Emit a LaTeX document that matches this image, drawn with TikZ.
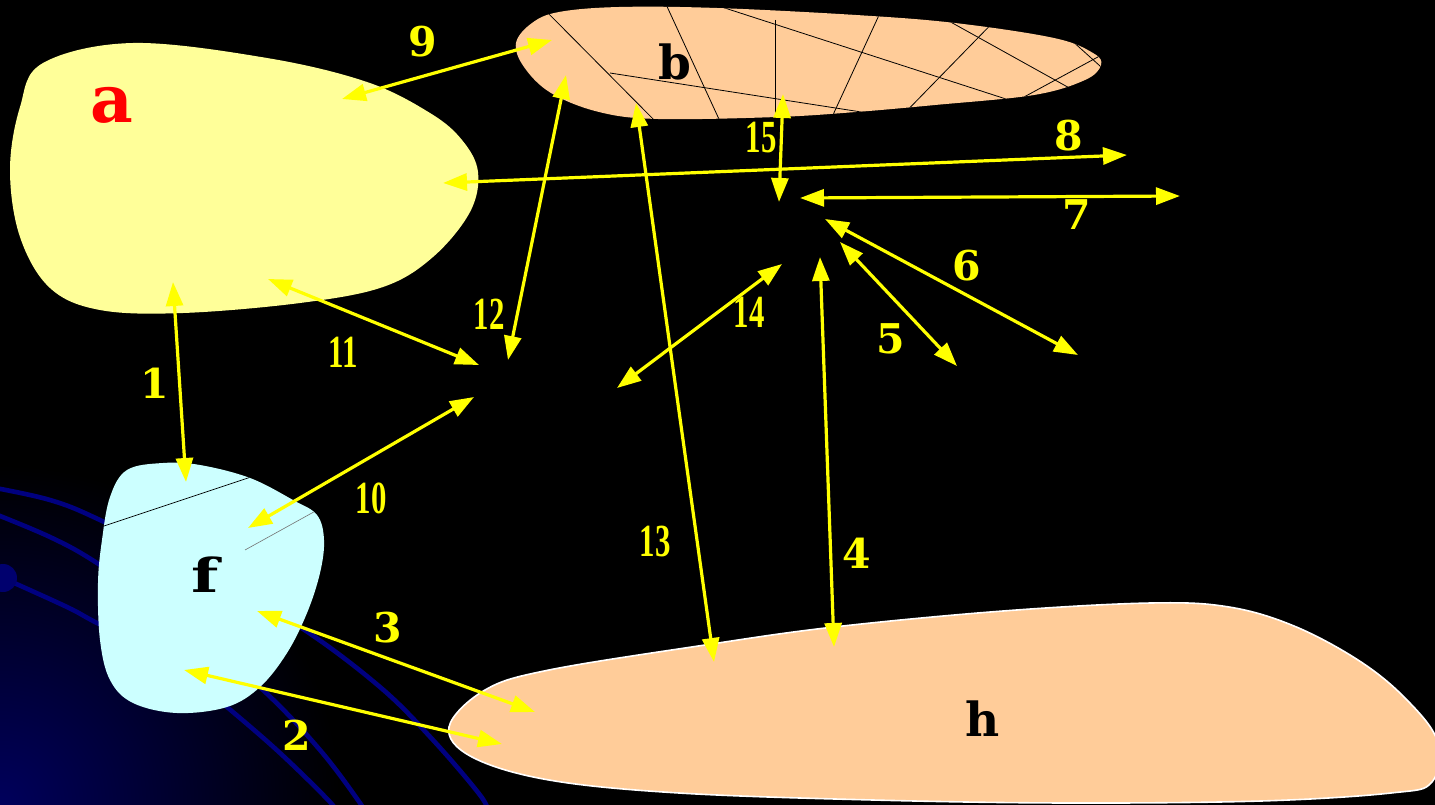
\documentclass[tikz,border=0pt]{standalone}
\usepackage{fontspec}
\usepackage{graphicx}
\usetikzlibrary{arrows.meta}
\newfontfamily\dvs{DejaVu Serif}
\newfontfamily\libs{Liberation Serif}
\definecolor{yel}{RGB}{255,255,0}
\definecolor{peach}{RGB}{255,204,153}
\definecolor{paleyel}{RGB}{255,255,153}
\definecolor{palecyan}{RGB}{204,255,255}
\definecolor{navyl}{RGB}{0,0,128}
\definecolor{glow}{RGB}{0,0,92}
\definecolor{dotc}{RGB}{0,0,110}
\newcommand{\narr}[1]{\scalebox{0.67}[1]{#1}}
\begin{document}
\begin{tikzpicture}[x=1pt,y=-1pt,
  dbl/.style={draw=yel, line width=3.2pt, {Triangle[length=24pt,width=17pt]}-{Triangle[length=24pt,width=17pt]}},
  numlab/.style={text=yel, inner sep=0pt, font=\dvs\bfseries\fontsize{41}{45}\selectfont},
  numlabn/.style={text=yel, inner sep=0pt, font=\libs\bfseries\fontsize{46}{50}\selectfont},
  letlab/.style={inner sep=0pt, font=\dvs\bfseries\fontsize{47}{50}\selectfont},
  bline/.style={draw=navyl, line width=4.6pt},
  hatch/.style={draw=black, line width=0.8pt}]
\useasboundingbox (0,0) rectangle (1435,805);
\fill[black] (0,0) rectangle (1435,805);
% background glow and blue arcs
\begin{scope}
  \clip (0,0) rectangle (1435,805);
  \shade[inner color=glow, outer color=black] (0,805) circle (340);
  \draw[bline] plot[smooth, tension=0.6] coordinates {(-10,487) (50,500) (100,520) (200,570) (300,627) (380,687) (433,740) (480,795) (488,812)};
  \draw[bline] plot[smooth, tension=0.6] coordinates {(-10,512) (50,537) (97,563) (180,620) (263,690) (320,750) (360,803) (366,815)};
  \draw[bline] plot[smooth, tension=0.6] coordinates {(3,578) (67,607) (97,623) (170,660) (227,707) (280,753) (330,802) (338,815)};
  \fill[dotc] (3,578) circle (14);
\end{scope}
% a
\fill[paleyel] plot[smooth cycle, tension=0.6] coordinates {(43,63) (133,43) (267,58) (367,82) (430,113) (462,140) (478,172) (470,212) (433,257) (383,287) (300,303) (183,313) (100,310) (50,288) (20,237) (10,170) (20,107)};
% b
\begin{scope}
  \path[fill=peach] plot[smooth cycle, tension=0.6] coordinates {(516,43) (532,23) (559,12) (619,7) (717,8) (856,15) (955,23) (1054,38) (1093,53) (1101,65) (1085,80) (1034,95) (935,105) (856,112) (777,117) (658,119) (599,112) (551,93) (524,67)};
  \clip plot[smooth cycle, tension=0.6] coordinates {(516,43) (532,23) (559,12) (619,7) (717,8) (856,15) (955,23) (1054,38) (1093,53) (1101,65) (1085,80) (1034,95) (935,105) (856,112) (777,117) (658,119) (599,112) (551,93) (524,67)};
  \draw[hatch] (540,5) -- (664,130);
  \draw[hatch] (664,0) -- (724,130);
  \draw[hatch] (775,20) -- (775,130);
  \draw[hatch] (886,0) -- (826,130);
  \draw[hatch] (700,0) -- (1040,110);
  \draw[hatch] (1010,5) -- (893,125);
  \draw[hatch] (920,5) -- (1100,105);
  \draw[hatch] (1120,45) -- (1000,110);
  \draw[hatch] (1060,30) -- (1110,75);
  \draw[hatch] (610,73) -- (900,118);
\end{scope}
% f
\begin{scope}
  \path[fill=palecyan] plot[smooth cycle, tension=0.6] coordinates {(127,470) (163,463) (200,465) (250,478) (293,500) (317,515) (324,540) (320,573) (307,613) (287,653) (260,687) (227,707) (177,713) (133,703) (110,680) (100,640) (98,583) (102,540) (110,497)};
  \clip plot[smooth cycle, tension=0.6] coordinates {(127,470) (163,463) (200,465) (250,478) (293,500) (317,515) (324,540) (320,573) (307,613) (287,653) (260,687) (227,707) (177,713) (133,703) (110,680) (100,640) (98,583) (102,540) (110,497)};
  \draw[black, line width=0.7pt] (95,529) -- (260,474);
  \draw[black!55, line width=0.6pt] (245,550) -- (330,503);
\end{scope}
% h
\fill[peach, draw=white, line width=1.6pt] plot[smooth cycle, tension=0.6] coordinates {(449,727) (485,690) (549,670) (705,645) (834,627) (1003,611) (1151,603) (1229,607) (1294,626) (1358,660) (1404,697) (1437,740) (1432,782) (1391,793) (1261,801) (1067,803) (873,800) (679,793) (549,780) (472,757)};
% arrow end points
\coordinate (e1a) at (173,282); \coordinate (e1b) at (186,482);
\coordinate (e2a) at (184,670); \coordinate (e2b) at (502,744);
\coordinate (e3a) at (257,611); \coordinate (e3b) at (535,712);
\coordinate (e4a) at (820,257); \coordinate (e4b) at (834,647);
\coordinate (e5a) at (840,242); \coordinate (e5b) at (957,366);
\coordinate (e6a) at (825,219); \coordinate (e6b) at (1078,355);
\coordinate (e7a) at (800,198); \coordinate (e7b) at (1180,196);
\coordinate (e8a) at (443,183); \coordinate (e8b) at (1127,155);
\coordinate (e9a) at (342,99); \coordinate (e9b) at (552,40);
\coordinate (e10a) at (248,528); \coordinate (e10b) at (474,397);
\coordinate (e11a) at (268,279); \coordinate (e11b) at (479,365);
\coordinate (e12a) at (566,75); \coordinate (e12b) at (508,360);
\coordinate (e13a) at (636,103); \coordinate (e13b) at (714,662);
\coordinate (e14a) at (617,388); \coordinate (e14b) at (782,264);
\coordinate (e15a) at (783,94); \coordinate (e15b) at (779,202);
\foreach \i in {1,...,15} {\draw[dbl] (e\i a) -- (e\i b);}
% region labels
\node[letlab, text=red, font=\dvs\bfseries\fontsize{66}{70}\selectfont] (la) at (112,105) {a};
\node[letlab] (lb) at (675,62) {b};
\node[letlab] (lf) at (205,575) {\scalebox{1.35}[1]{f}};
\node[letlab] (lh) at (983,719) {h};
% number labels
\node[numlab] (n1) at (155,383) {1};
\node[numlab] (n2) at (297,735) {2};
\node[numlab] (n3) at (388,628) {3};
\node[numlab] (n4) at (857,553) {4};
\node[numlab] (n5) at (891,339) {5};
\node[numlab] (n6) at (967,266) {6};
\node[numlab] (n7) at (1077,215) {7};
\node[numlab] (n8) at (1069,136) {8};
\node[numlab] (n9) at (423,42) {9};
\node[numlabn] (n10) at (371,498) {\narr{10}};
\node[numlabn] (n11) at (343,352) {\narr{11}};
\node[numlabn] (n12) at (489,314) {\narr{12}};
\node[numlabn] (n13) at (655,541) {\narr{13}};
\node[numlabn] (n14) at (749,312) {\narr{14}};
\node[numlabn] (n15) at (761,138) {\narr{15}};
\end{tikzpicture}
\end{document}
